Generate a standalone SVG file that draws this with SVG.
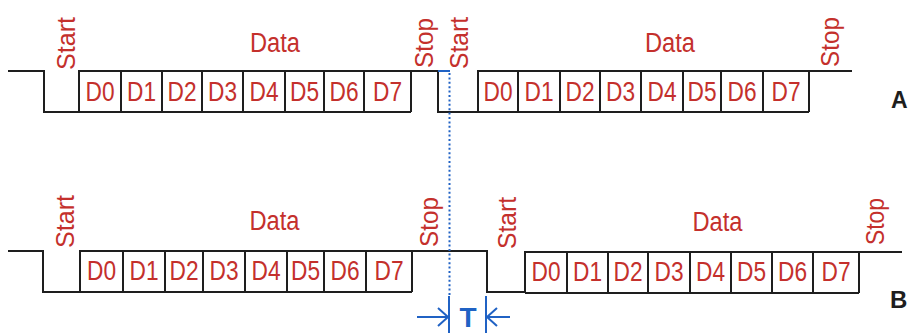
<svg xmlns="http://www.w3.org/2000/svg" width="909" height="333" viewBox="0 0 909 333">
<defs>
<style>
.bg{fill:#ffffff}
.w{fill:none;stroke:#1e1e1e;stroke-width:2;stroke-linejoin:miter}
.lbl{font-family:"Liberation Sans",Arial,sans-serif;fill:#c4302c}
.d{font-size:27px;text-anchor:middle}
.data{font-size:27px;text-anchor:middle}
.rot{font-size:25px}
.blue{fill:none;stroke:#2062c4;stroke-width:2}
.dot{fill:none;stroke:#2062c4;stroke-width:2;stroke-dasharray:2 2.4}
.tl{font-family:"Liberation Sans",Arial,sans-serif;font-weight:bold;fill:#2062c4;font-size:28px;text-anchor:middle}
.ab{font-family:"Liberation Sans",Arial,sans-serif;font-weight:bold;fill:#1e1e1e}
</style>
<marker id="chev" markerUnits="userSpaceOnUse" markerWidth="14" markerHeight="22" refX="11" refY="10" orient="auto">
<path d="M1,1 L11,10 L1,19" fill="none" stroke="#2062c4" stroke-width="2"/>
</marker>
</defs>
<rect class="bg" x="0" y="0" width="909" height="333"/>

<g id="signal-A">
<path class="w" d="M8,71 H44 V112 H79 V71 H438 V112 H478 V71 H852"/>
</g>
<g id="frame-A1">
<path class="w" d="M79,112 H411 M79,71 V112 M121,71 V112 M162,71 V112 M202,71 V112 M243,71 V112 M285,71 V112 M324,71 V112 M364,71 V112 M411,71 V112"/>
<g class="lbl d">
<text x="100" y="101" textLength="29" lengthAdjust="spacingAndGlyphs">D0</text>
<text x="141.5" y="101" textLength="29" lengthAdjust="spacingAndGlyphs">D1</text>
<text x="182" y="101" textLength="29" lengthAdjust="spacingAndGlyphs">D2</text>
<text x="222.5" y="101" textLength="29" lengthAdjust="spacingAndGlyphs">D3</text>
<text x="264" y="101" textLength="29" lengthAdjust="spacingAndGlyphs">D4</text>
<text x="304.5" y="101" textLength="29" lengthAdjust="spacingAndGlyphs">D5</text>
<text x="344" y="101" textLength="29" lengthAdjust="spacingAndGlyphs">D6</text>
<text x="387.5" y="101" textLength="29" lengthAdjust="spacingAndGlyphs">D7</text>
</g>
<text class="lbl data" x="275" y="52" textLength="50" lengthAdjust="spacingAndGlyphs">Data</text>
<text class="lbl rot" transform="translate(75,70) rotate(-90)" textLength="53" lengthAdjust="spacingAndGlyphs">Start</text>
<text class="lbl rot" transform="translate(433,68) rotate(-90)" textLength="50" lengthAdjust="spacingAndGlyphs">Stop</text>
</g>
<g id="frame-A2">
<path class="w" d="M478,112 H809 M478,71 V112 M518,71 V112 M560,71 V112 M600,71 V112 M641,71 V112 M683,71 V112 M721,71 V112 M763,71 V112 M809,71 V112"/>
<g class="lbl d">
<text x="498" y="101" textLength="29" lengthAdjust="spacingAndGlyphs">D0</text>
<text x="539" y="101" textLength="29" lengthAdjust="spacingAndGlyphs">D1</text>
<text x="580" y="101" textLength="29" lengthAdjust="spacingAndGlyphs">D2</text>
<text x="620.5" y="101" textLength="29" lengthAdjust="spacingAndGlyphs">D3</text>
<text x="662" y="101" textLength="29" lengthAdjust="spacingAndGlyphs">D4</text>
<text x="702" y="101" textLength="29" lengthAdjust="spacingAndGlyphs">D5</text>
<text x="742" y="101" textLength="29" lengthAdjust="spacingAndGlyphs">D6</text>
<text x="786" y="101" textLength="29" lengthAdjust="spacingAndGlyphs">D7</text>
</g>
<text class="lbl data" x="670" y="52" textLength="50" lengthAdjust="spacingAndGlyphs">Data</text>
<text class="lbl rot" transform="translate(468,69) rotate(-90)" textLength="52" lengthAdjust="spacingAndGlyphs">Start</text>
<text class="lbl rot" transform="translate(839,67) rotate(-90)" textLength="50" lengthAdjust="spacingAndGlyphs">Stop</text>
</g>
<text id="label-A" class="ab" x="891" y="108" font-size="23">A</text>

<g id="signal-B">
<path class="w" d="M8,251 H43 V292 H80 V251 H487 V292 H525 V252 H902"/>
</g>
<g id="frame-B1">
<path class="w" d="M80,292 H412 M80,251 V292 M123,251 V292 M165,251 V292 M203,251 V292 M245,251 V292 M287,251 V292 M324,251 V292 M366,251 V292 M412,251 V292"/>
<g class="lbl d">
<text x="101.5" y="280" textLength="29" lengthAdjust="spacingAndGlyphs">D0</text>
<text x="144" y="280" textLength="29" lengthAdjust="spacingAndGlyphs">D1</text>
<text x="184" y="280" textLength="29" lengthAdjust="spacingAndGlyphs">D2</text>
<text x="224" y="280" textLength="29" lengthAdjust="spacingAndGlyphs">D3</text>
<text x="266" y="280" textLength="29" lengthAdjust="spacingAndGlyphs">D4</text>
<text x="305.5" y="280" textLength="29" lengthAdjust="spacingAndGlyphs">D5</text>
<text x="345" y="280" textLength="29" lengthAdjust="spacingAndGlyphs">D6</text>
<text x="389" y="280" textLength="29" lengthAdjust="spacingAndGlyphs">D7</text>
</g>
<text class="lbl data" x="274.5" y="230" textLength="50" lengthAdjust="spacingAndGlyphs">Data</text>
<text class="lbl rot" transform="translate(74,248) rotate(-90)" textLength="53" lengthAdjust="spacingAndGlyphs">Start</text>
<text class="lbl rot" transform="translate(438,247) rotate(-90)" textLength="50" lengthAdjust="spacingAndGlyphs">Stop</text>
</g>
<g id="frame-B2">
<path class="w" d="M525,293 H859 M525,252 V293 M567,252 V293 M608,252 V293 M648,252 V293 M690,252 V293 M731,252 V293 M772,252 V293 M813,252 V293 M859,252 V293"/>
<g class="lbl d">
<text x="546" y="281" textLength="29" lengthAdjust="spacingAndGlyphs">D0</text>
<text x="587.5" y="281" textLength="29" lengthAdjust="spacingAndGlyphs">D1</text>
<text x="628" y="281" textLength="29" lengthAdjust="spacingAndGlyphs">D2</text>
<text x="669" y="281" textLength="29" lengthAdjust="spacingAndGlyphs">D3</text>
<text x="710.5" y="281" textLength="29" lengthAdjust="spacingAndGlyphs">D4</text>
<text x="751.5" y="281" textLength="29" lengthAdjust="spacingAndGlyphs">D5</text>
<text x="792.5" y="281" textLength="29" lengthAdjust="spacingAndGlyphs">D6</text>
<text x="836" y="281" textLength="29" lengthAdjust="spacingAndGlyphs">D7</text>
</g>
<text class="lbl data" x="717.5" y="231" textLength="50" lengthAdjust="spacingAndGlyphs">Data</text>
<text class="lbl rot" transform="translate(516,249) rotate(-90)" textLength="52" lengthAdjust="spacingAndGlyphs">Start</text>
<text class="lbl rot" transform="translate(884,245) rotate(-90)" textLength="47" lengthAdjust="spacingAndGlyphs">Stop</text>
</g>
<text id="label-B" class="ab" x="890" y="308" font-size="24">B</text>

<g id="connectors">
<line class="blue" x1="438" y1="71" x2="450" y2="71"/>
<line class="dot" x1="449.5" y1="73" x2="449.5" y2="296"/>
<line class="blue" x1="449" y1="296" x2="449" y2="333"/>
<line class="blue" x1="486" y1="296" x2="486" y2="333"/>
<line class="blue" x1="417" y1="317" x2="448" y2="317" marker-end="url(#chev)"/>
<line class="blue" x1="510" y1="317" x2="487" y2="317" marker-end="url(#chev)"/>
</g>
<text id="label-T" class="tl" x="468" y="327">T</text>
</svg>
